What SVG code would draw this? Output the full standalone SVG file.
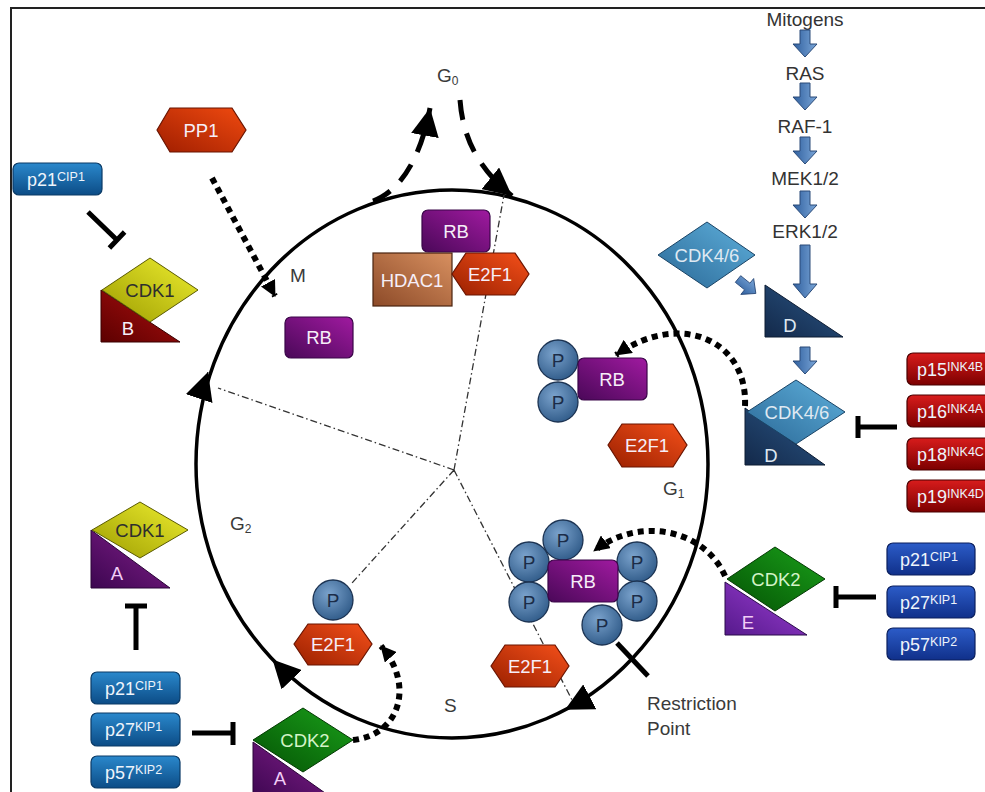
<svg xmlns="http://www.w3.org/2000/svg" width="985" height="792" viewBox="0 0 985 792">
<defs>
<style>
text{font-family:"Liberation Sans",Arial,sans-serif}
.t{font-size:18.5px;fill:#f6eef8;text-anchor:middle}
.tb{font-size:18px;fill:#eef4fb}
.dk{fill:#2e2e2e}
.lg{fill:#d4f4c8}
.pk{fill:#f2cdf6}
.lb{fill:#dfe9f2}
.ph{font-size:19px;fill:#3a3a3a}
.mit{font-size:19px;fill:#333;text-anchor:middle}
.pt{font-size:19px;fill:#1b2c48;text-anchor:middle}
.rb{fill:url(#gPurple);stroke:#3a0648;stroke-width:1.2}
.e2f{fill:url(#gE2F);stroke:#6a1400;stroke-width:1.2}
.pc{fill:url(#gP);stroke:#1c3352;stroke-width:1.3}
.cyc{fill:none;stroke:#000;stroke-width:3.5}
.dd{fill:none;stroke:#333;stroke-width:1.3;stroke-dasharray:7 3 1.5 3}
.dot{fill:none;stroke:#000;stroke-width:6;stroke-dasharray:6 5}
.dash{fill:none;stroke:#000;stroke-width:5;stroke-dasharray:20 14}
.inh{fill:none;stroke:#000;stroke-width:5}
.blk{fill:url(#gArrow);stroke:#2a4a78;stroke-width:1}
.lbox{fill:url(#gLBox);stroke:#0a3a66;stroke-width:1.2}
.rbox{fill:url(#gRBox);stroke:#0a1f5e;stroke-width:1.2}
.redbox{fill:url(#gRed);stroke:#4a0000;stroke-width:1.2}
</style>
<linearGradient id="gPurple" x1="0" y1="1" x2="1" y2="0"><stop offset="0" stop-color="#4a0858"/><stop offset="1" stop-color="#a01aa0"/></linearGradient>
<linearGradient id="gE2F" x1="0" y1="1" x2="1" y2="0"><stop offset="0" stop-color="#9a2000"/><stop offset="1" stop-color="#f5501a"/></linearGradient>
<linearGradient id="gPP1" x1="0" y1="1" x2="1" y2="0"><stop offset="0" stop-color="#a01e00"/><stop offset="1" stop-color="#f04a10"/></linearGradient>
<linearGradient id="gH" x1="0" y1="1" x2="1" y2="0"><stop offset="0" stop-color="#8c4a28"/><stop offset="1" stop-color="#d89060"/></linearGradient>
<radialGradient id="gP" cx="0.4" cy="0.35" r="0.7"><stop offset="0" stop-color="#7aa2cc"/><stop offset="1" stop-color="#2f5a88"/></radialGradient>
<linearGradient id="gY" x1="0" y1="1" x2="1" y2="0"><stop offset="0" stop-color="#9c9c00"/><stop offset="1" stop-color="#eeee30"/></linearGradient>
<linearGradient id="gB" x1="0" y1="1" x2="1" y2="0"><stop offset="0" stop-color="#5c0000"/><stop offset="1" stop-color="#b01010"/></linearGradient>
<linearGradient id="gA" x1="0" y1="1" x2="1" y2="0"><stop offset="0" stop-color="#3c0650"/><stop offset="1" stop-color="#86208e"/></linearGradient>
<linearGradient id="gG" x1="0" y1="1" x2="1" y2="0"><stop offset="0" stop-color="#045204"/><stop offset="1" stop-color="#1aa01a"/></linearGradient>
<linearGradient id="gE" x1="0" y1="1" x2="1" y2="0"><stop offset="0" stop-color="#561a8c"/><stop offset="1" stop-color="#a040d8"/></linearGradient>
<linearGradient id="gC46" x1="0" y1="1" x2="1" y2="0"><stop offset="0" stop-color="#2a6896"/><stop offset="1" stop-color="#5fb0dc"/></linearGradient>
<linearGradient id="gD" x1="0" y1="1" x2="1" y2="0"><stop offset="0" stop-color="#13294a"/><stop offset="1" stop-color="#2c5888"/></linearGradient>
<linearGradient id="gArrow" x1="0" y1="0" x2="1" y2="0"><stop offset="0" stop-color="#2f5f9e"/><stop offset="1" stop-color="#7aa6d8"/></linearGradient>
<linearGradient id="gLBox" x1="0" y1="0" x2="0" y2="1"><stop offset="0" stop-color="#2a88cc"/><stop offset="1" stop-color="#0c4c86"/></linearGradient>
<linearGradient id="gRBox" x1="0" y1="0" x2="0" y2="1"><stop offset="0" stop-color="#2c5cc8"/><stop offset="1" stop-color="#10308a"/></linearGradient>
<linearGradient id="gRed" x1="0" y1="0" x2="0" y2="1"><stop offset="0" stop-color="#d81c1c"/><stop offset="1" stop-color="#7c0000"/></linearGradient>
<marker id="big" markerUnits="userSpaceOnUse" viewBox="0 0 28 28" markerWidth="28" markerHeight="28" refX="28" refY="14" orient="auto"><path d="M0,0 L28,14 L0,28 Z" fill="#000"/></marker>
<marker id="sm" markerUnits="userSpaceOnUse" viewBox="0 0 16 16" markerWidth="16" markerHeight="16" refX="15" refY="8" orient="auto"><path d="M0,0 L16,8 L0,16 Z" fill="#000"/></marker>
<path id="barrow" d="M-5,0 H5 V14 H12 L0,27 L-12,14 H-5 Z" class="blk"/>
</defs>

<rect x="11" y="8" width="1000" height="800" fill="#fff" stroke="#222" stroke-width="2"/>

<g id="cycle">
<ellipse cx="452" cy="464" rx="256" ry="274" class="cyc"/>
<path d="M454,470 L504,195 M454,470 L218,388 M454,470 L352,583 M454,470 L572,700" class="dd"/>
<path d="M199.8,396.7 L208,372" fill="none" stroke="#000" stroke-width="1" marker-end="url(#big)"/>
<path d="M290.4,678.3 L272.5,659.4" fill="none" stroke="#000" stroke-width="1" marker-end="url(#big)"/>
<path d="M588,697.7 L565,709.8" fill="none" stroke="#000" stroke-width="1" marker-end="url(#big)"/>
</g>

<g id="phase-labels">
<text class="ph" x="290" y="282">M</text>
<text class="ph" x="437" y="82">G<tspan font-size="12" dy="3">0</tspan></text>
<text class="ph" x="663" y="495">G<tspan font-size="12" dy="3">1</tspan></text>
<text class="ph" x="230" y="530">G<tspan font-size="12" dy="3">2</tspan></text>
<text class="ph" x="444" y="712">S</text>
<text class="ph" x="647" y="710" font-size="18">Restriction</text>
<text class="ph" x="647" y="735" font-size="18">Point</text>
</g>

<g id="mitogens"><text class="mit" x="805" y="26">Mitogens</text></g>
<g id="ras"><text class="mit" x="805" y="80">RAS</text></g>
<g id="raf1"><text class="mit" x="805" y="133">RAF-1</text></g>
<g id="mek"><text class="mit" x="805" y="185">MEK1/2</text></g>
<g id="erk"><text class="mit" x="805" y="238">ERK1/2</text></g>

<g id="p21-top"><rect x="13" y="163" width="89" height="32" rx="6" class="lbox"/><text class="tb" x="27" y="186">p21<tspan font-size="12.5" dy="-5">CIP1</tspan></text></g>

<g id="pp1"><polygon points="157,130 170,108 232,108 246,130 232,152 170,152" fill="url(#gPP1)" stroke="#6a1400" stroke-width="1.2"/><text class="t" x="201" y="137">PP1</text></g>

<g id="cdk1-b"><polygon points="101,290 101,342 180,342" fill="url(#gB)" stroke="#3a0000"/><polygon points="102,290 150,258 198,290 150,322" fill="url(#gY)" stroke="#5a5a00"/><text class="t dk" x="150" y="297">CDK1</text><text class="t" x="128" y="335">B</text></g>

<g id="rb-m"><rect x="285" y="317" width="68" height="41" rx="6" class="rb"/><text class="t" x="319" y="344">RB</text></g>

<g id="rb-hdac1-e2f1"><rect x="422" y="210" width="68" height="42" rx="6" class="rb"/><text class="t" x="456" y="238">RB</text><rect x="373" y="253" width="79" height="53" fill="url(#gH)" stroke="#4a2410" stroke-width="1.2"/><text class="t" x="412" y="287">HDAC1</text><polygon points="452,274 466,253 515,253 529,274 515,295 466,295" class="e2f"/><text class="t" x="490" y="281">E2F1</text></g>

<g id="cdk46"><polygon points="658,255 707,222 755,255 707,288" fill="url(#gC46)" stroke="#1a4466"/><text class="t lb" x="707" y="262">CDK4/6</text></g>

<g id="cyclin-d"><polygon points="765,285 765,337 843,337" fill="url(#gD)" stroke="#0c1c33"/><text class="t lb" x="790" y="332">D</text></g>

<g id="rb-2p"><circle cx="558" cy="360" r="20" class="pc"/><text class="pt" x="558" y="367">P</text><circle cx="558" cy="402" r="20" class="pc"/><text class="pt" x="558" y="409">P</text><rect x="578" y="358" width="69" height="42" rx="6" class="rb"/><text class="t" x="612" y="386">RB</text></g>

<g id="e2f1-g1"><polygon points="608,445 622,424 673,424 687,445 673,467 622,467" class="e2f"/><text class="t" x="647" y="452">E2F1</text></g>

<g id="cdk46-d"><polygon points="745,408 745,465 825,465" fill="url(#gD)" stroke="#0c1c33"/><polygon points="747,412 796,380 845,412 796,444" fill="url(#gC46)" stroke="#1a4466"/><text class="t lb" x="797" y="419">CDK4/6</text><text class="t lb" x="771" y="462">D</text></g>

<g id="ink4">
<rect x="907" y="353" width="90" height="32" rx="6" class="redbox"/><text class="tb" x="917" y="376">p15<tspan font-size="12.5" dy="-5">INK4B</tspan></text>
<rect x="907" y="395" width="90" height="32" rx="6" class="redbox"/><text class="tb" x="917" y="418">p16<tspan font-size="12.5" dy="-5">INK4A</tspan></text>
<rect x="907" y="438" width="90" height="32" rx="6" class="redbox"/><text class="tb" x="917" y="461">p18<tspan font-size="12.5" dy="-5">INK4C</tspan></text>
<rect x="907" y="480" width="90" height="32" rx="6" class="redbox"/><text class="tb" x="917" y="503">p19<tspan font-size="12.5" dy="-5">INK4D</tspan></text>
</g>

<g id="rb-6p">
<circle cx="563" cy="540" r="20" class="pc"/><text class="pt" x="563" y="547">P</text>
<circle cx="529" cy="562" r="20" class="pc"/><text class="pt" x="529" y="569">P</text>
<circle cx="529" cy="602" r="20" class="pc"/><text class="pt" x="529" y="609">P</text>
<circle cx="637" cy="562" r="20" class="pc"/><text class="pt" x="637" y="569">P</text>
<circle cx="637" cy="601" r="20" class="pc"/><text class="pt" x="637" y="608">P</text>
<circle cx="602" cy="625" r="20" class="pc"/><text class="pt" x="602" y="632">P</text>
<rect x="548" y="560" width="70" height="42" rx="6" class="rb"/><text class="t" x="583" y="588">RB</text>
</g>

<g id="cdk2-e"><polygon points="725,582 725,635 807,635" fill="url(#gE)" stroke="#2a0a4a"/><polygon points="727,579 775,547 825,579 775,611" fill="url(#gG)" stroke="#033a03"/><text class="t lg" x="776" y="586">CDK2</text><text class="t pk" x="748" y="629">E</text></g>

<g id="cip-kip-right">
<rect x="887" y="543" width="88" height="32" rx="6" class="rbox"/><text class="tb" x="900" y="566">p21<tspan font-size="12.5" dy="-5">CIP1</tspan></text>
<rect x="887" y="586" width="88" height="32" rx="6" class="rbox"/><text class="tb" x="900" y="609">p27<tspan font-size="12.5" dy="-5">KIP1</tspan></text>
<rect x="887" y="628" width="88" height="32" rx="6" class="rbox"/><text class="tb" x="900" y="651">p57<tspan font-size="12.5" dy="-5">KIP2</tspan></text>
</g>

<g id="e2f1-s"><polygon points="491,666 505,645 555,645 569,666 555,687 505,687" class="e2f"/><text class="t" x="530" y="673">E2F1</text></g>

<g id="e2f1-p"><circle cx="333" cy="600" r="20" class="pc"/><text class="pt" x="333" y="607">P</text><polygon points="294,644 308,624 358,624 372,644 358,665 308,665" class="e2f"/><text class="t" x="333" y="651">E2F1</text></g>

<g id="cdk2-a"><polygon points="253,742 253,800 335,800" fill="url(#gA)" stroke="#2a0438"/><polygon points="253,740 303,708 353,740 303,772" fill="url(#gG)" stroke="#033a03"/><text class="t lg" x="305" y="747">CDK2</text><text class="t pk" x="280" y="785">A</text></g>

<g id="cip-kip-left">
<rect x="91" y="672" width="89" height="32" rx="6" class="lbox"/><text class="tb" x="105" y="695">p21<tspan font-size="12.5" dy="-5">CIP1</tspan></text>
<rect x="91" y="713" width="89" height="33" rx="6" class="lbox"/><text class="tb" x="105" y="736">p27<tspan font-size="12.5" dy="-5">KIP1</tspan></text>
<rect x="91" y="756" width="89" height="32" rx="6" class="lbox"/><text class="tb" x="105" y="779">p57<tspan font-size="12.5" dy="-5">KIP2</tspan></text>
</g>

<g id="cdk1-a"><polygon points="91,530 91,588 170,588" fill="url(#gA)" stroke="#2a0438"/><polygon points="92,530 140,502 188,530 140,558" fill="url(#gY)" stroke="#5a5a00"/><text class="t dk" x="140" y="537">CDK1</text><text class="t pk" x="117" y="580">A</text></g>

<g id="connectors">
<use href="#barrow" transform="translate(805,30)"/>
<use href="#barrow" transform="translate(805,83)"/>
<use href="#barrow" transform="translate(805,137)"/>
<use href="#barrow" transform="translate(805,191)"/>
<path d="M800,245 H810 V284 H817 L805,298 L793,284 H800 Z" class="blk"/>
<use href="#barrow" transform="translate(738,279) rotate(-51) scale(0.85)"/>
<use href="#barrow" transform="translate(805,347)"/>
<path d="M212,178 L275,296" class="dot" marker-end="url(#sm)"/>
<path d="M745,406 C748,340 680,310 616,355" class="dot" marker-end="url(#sm)"/>
<path d="M725,576 C705,530 640,515 594,551" class="dot" marker-end="url(#sm)"/>
<path d="M353,740 C400,735 415,685 381,646" class="dot" marker-end="url(#sm)"/>
<path d="M373,201 C398,192 420,162 430,108" class="dash" marker-end="url(#big)"/>
<path d="M460,100 C463,140 480,170 512,196" class="dash" marker-end="url(#big)"/>
<path d="M88,212 L117,240 M109.4,247.9 L124.6,232.1" class="inh"/>
<path d="M897,427 L858,427 M858,416 L858,438" class="inh"/>
<path d="M876,597 L836,597 M836,586 L836,608" class="inh"/>
<path d="M192,733 L233,733 M233,722 L233,745" class="inh"/>
<path d="M136,650 L136,606 M125,606 L147,606" class="inh"/>
<path d="M617,643 L648,676" class="inh" stroke-width="4"/>
</g>
</svg>
